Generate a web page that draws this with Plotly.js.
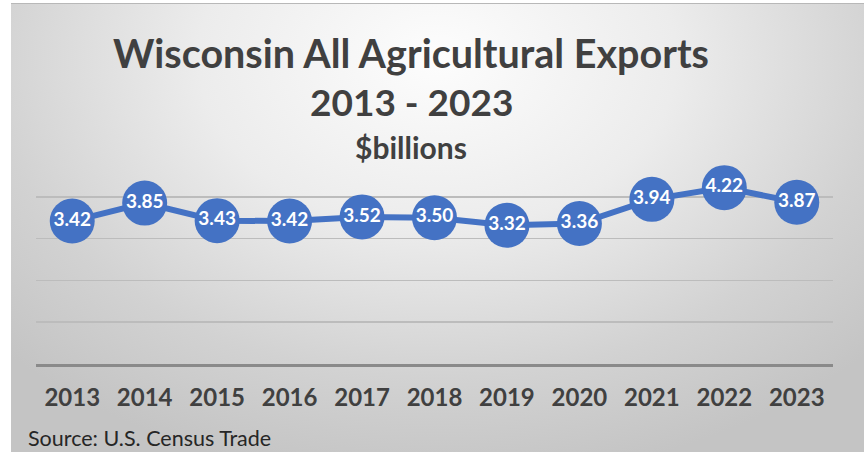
<!DOCTYPE html>
<html>
<head>
<meta charset="utf-8">
<script src="https://cdn.plot.ly/plotly-3.0.1.min.js"></script>
<style>
  html, body { margin:0; padding:0; background:#ffffff; width:864px; height:452px; overflow:hidden; }
  #bg { position:absolute; left:11px; top:3px; width:853px; height:449px;
        border-top:1px solid #b8b8b8;
        background: radial-gradient(ellipse 70% 95% at 50% 12%, #fdfdfd 0%, #ececec 40%, #d2d2d2 75%, #c4c4c4 100%); }
  #chart { position:absolute; left:0; top:0; width:864px; height:452px; }
</style>
</head>
<body>
<div id="bg"></div>
<div id="chart"></div>
<script>
const years = ['2013','2014','2015','2016','2017','2018','2019','2020','2021','2022','2023'];
const exportsBillions = [3.42, 3.85, 3.43, 3.42, 3.52, 3.50, 3.32, 3.36, 3.94, 4.22, 3.87];
const valueLabels = ['3.42','3.85','3.43','3.42','3.52','3.50','3.32','3.36','3.94','4.22','3.87'];
const titleLine1 = 'Wisconsin All Agricultural Exports';
const titleLine2 = '2013 - 2023';
const subtitle = '$billions';
const sourceNote = 'Source: U.S. Census Trade';

const FONT = 'Lato, "Open Sans", "DejaVu Sans", sans-serif';
const blue = '#4472C4';
const textGray = '#404040';

const trace = {
  x: years,
  y: exportsBillions,
  type: 'scatter',
  mode: 'lines+markers+text',
  text: valueLabels,
  textposition: 'middle center',
  textfont: { family: FONT, size: 19, color: '#ffffff', weight: 700 },
  line: { color: blue, width: 6 },
  marker: { color: blue, size: 45, line: { width: 0 } },
  hoverinfo: 'none',
  cliponaxis: false
};

// plot area: x 36..833, y 155..364
const py = v => (364 - v) / 209;
const px = v => (v - 36) / 797;

const layout = {
  width: 864, height: 452,
  margin: { l: 36, r: 31, t: 155, b: 88, pad: 0 },
  paper_bgcolor: 'rgba(0,0,0,0)',
  plot_bgcolor: 'rgba(0,0,0,0)',
  showlegend: false,
  xaxis: {
    type: 'category',
    range: [-0.5, 10.5],
    showgrid: false,
    zeroline: false,
    showline: true,
    linecolor: '#8a8a8a',
    linewidth: 3,
    ticks: '',
    ticklabelstandoff: 10,
    tickfont: { family: FONT, size: 24, color: textGray, weight: 700 },
    fixedrange: true
  },
  yaxis: {
    range: [0, 5.001],
    dtick: 1,
    tick0: 0,
    showgrid: true,
    gridcolor: '#bcbcbc',
    gridwidth: 1.5,
    zeroline: false,
    showticklabels: false,
    showline: false,
    ticks: '',
    fixedrange: true
  },
  annotations: [
    { text: titleLine1, xref: 'paper', yref: 'paper', x: px(411), y: py(52), xanchor: 'center', yanchor: 'middle',
      showarrow: false, font: { family: FONT, size: 39.5, color: textGray, weight: 700 } },
    { text: titleLine2, xref: 'paper', yref: 'paper', x: px(411), y: py(102), xanchor: 'center', yanchor: 'middle',
      showarrow: false, font: { family: FONT, size: 37, color: textGray, weight: 700 } },
    { text: subtitle, xref: 'paper', yref: 'paper', x: px(411), y: py(147), xanchor: 'center', yanchor: 'middle',
      showarrow: false, font: { family: FONT, size: 30, color: textGray, weight: 700 } },
    { text: sourceNote, xref: 'paper', yref: 'paper', x: px(27), y: py(438), xanchor: 'left', yanchor: 'middle',
      borderpad: 0,
      showarrow: false, font: { family: FONT, size: 21.5, color: '#262626' } }
  ]
};

Plotly.newPlot('chart', [trace], layout, { staticPlot: true, displayModeBar: false });
</script>
</body>
</html>
